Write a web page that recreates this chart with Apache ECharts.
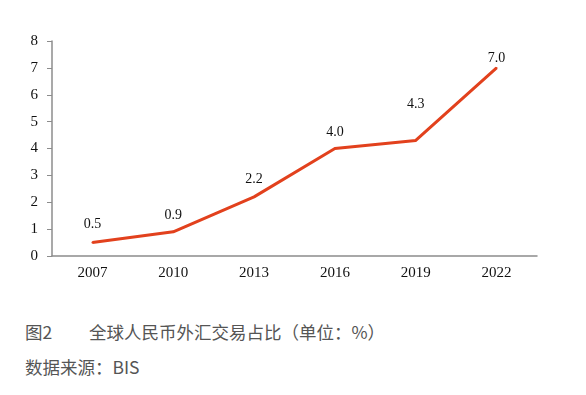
<!DOCTYPE html>
<html><head><meta charset="utf-8">
<script src="https://cdn.jsdelivr.net/npm/echarts@6/dist/echarts.min.js"></script>
<style>
html,body{margin:0;padding:0;background:#fff;}
#c{width:586px;height:300px;position:absolute;left:0;top:0;}
.cap{position:absolute;left:25px;font-family:"Noto Sans CJK SC",sans-serif;color:#555;font-size:17.5px;white-space:nowrap;line-height:1;}
</style></head>
<body>
<div id="c"></div>
<div class="cap" style="top:323px;">图2</div>
<div class="cap" style="top:323px;left:89px;">全球人民币外汇交易占比（单位：%）</div>
<div class="cap" style="top:358px;">数据来源：BIS</div>
<script>
const categories = ['2007','2010','2013','2016','2019','2022'];
const shareValues = [0.5, 0.9, 2.2, 4.0, 4.3, 7.0];
const yTicks = [0,1,2,3,4,5,6,7,8];

const labelGaps = [10, 8, 10, 8, 28, 2];
const chart = echarts.init(document.getElementById('c'), null, {renderer:'canvas'});
chart.setOption({
  animation:false,
  grid:{left:52,right:49,top:41,bottom:44},
  xAxis:{type:'category',data:categories,boundaryGap:true,
    axisLine:{lineStyle:{color:'#8c8c8c',width:1.5}},
    axisTick:{show:false},
    axisLabel:{color:'#111',fontFamily:'Liberation Serif',fontSize:15,margin:10}},
  yAxis:{type:'value',min:yTicks[0],max:yTicks[yTicks.length-1],interval:1,
    axisLine:{show:true,lineStyle:{color:'#8c8c8c',width:1.5}},
    axisTick:{show:true,inside:false,length:5,lineStyle:{color:'#8c8c8c'}},
    splitLine:{show:false},
    axisLabel:{color:'#111',fontFamily:'Liberation Serif',fontSize:15,margin:14}},
  series:[{type:'line',
    data:shareValues.map((v,i)=>({value:v,label:{show:true,position:'top',distance:labelGaps[i]}})),
    showSymbol:true,symbol:'circle',symbolSize:2,itemStyle:{color:'#e2411d',borderWidth:0},
    lineStyle:{color:'#e2411d',width:3},
    label:{show:true,position:'top',color:'#111',fontFamily:'Liberation Serif',fontSize:14,
      formatter:p=>p.value.toFixed(1)}}]
});
</script>
</body></html>
